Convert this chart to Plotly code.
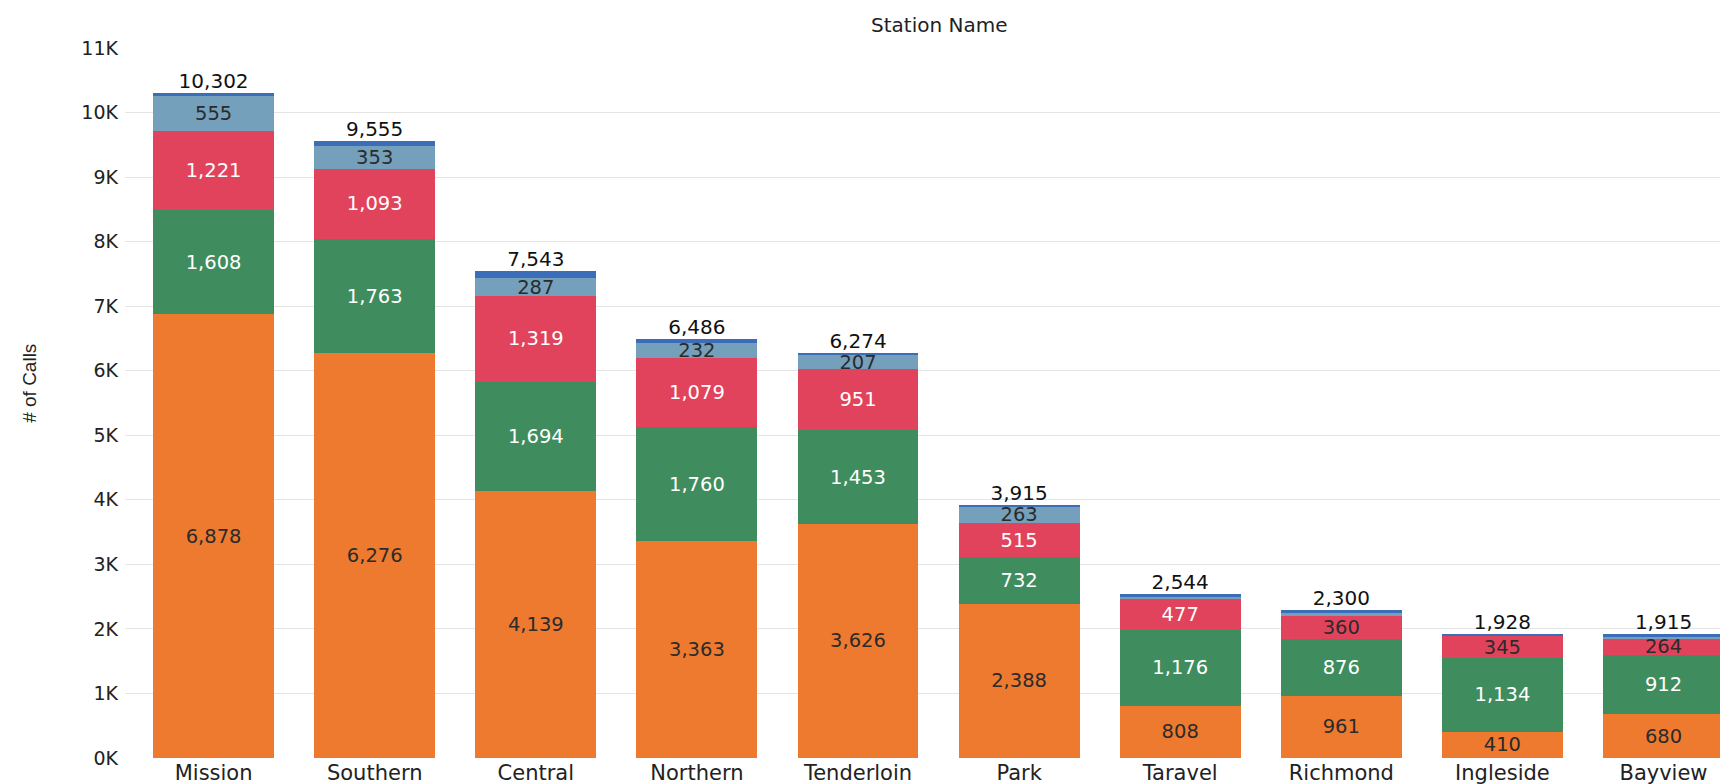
import plotly.graph_objects as go

stations = ["Mission", "Southern", "Central", "Northern", "Tenderloin",
            "Park", "Taravel", "Richmond", "Ingleside", "Bayview"]
orange_vals = [6878, 6276, 4139, 3363, 3626, 2388, 808, 961, 410, 680]
green_vals = [1608, 1763, 1694, 1760, 1453, 732, 1176, 876, 1134, 912]
red_vals = [1221, 1093, 1319, 1079, 951, 515, 477, 360, 345, 264]
lightblue_vals = [555, 353, 287, 232, 207, 263, 40, 55, 0, 20]
darkblue_vals = [40, 70, 104, 52, 37, 17, 43, 48, 39, 39]
totals = [10302, 9555, 7543, 6486, 6274, 3915, 2544, 2300, 1928, 1915]
show_lightblue_label = [True, True, True, True, True, True, False, False, False, False]
red_dark_text = [False, False, False, False, False, False, False, True, True, True]
ytick_vals = [0, 1000, 2000, 3000, 4000, 5000, 6000, 7000, 8000, 9000, 10000, 11000]
ytick_text = ["0K", "1K", "2K", "3K", "4K", "5K", "6K", "7K", "8K", "9K", "10K", "11K"]

FONT = "DejaVu Sans, Liberation Sans, Arial, sans-serif"
DARK = "#2b2b2b"
LABEL_SIZE = 19.5

def fmt(v):
    return f"{v:,}"

fig = go.Figure()

common = dict(textposition="inside", insidetextanchor="middle", constraintext="none")

fig.add_trace(go.Bar(
    x=stations, y=orange_vals, marker=dict(color="#EE7A2F", line=dict(width=0)),
    text=[fmt(v) for v in orange_vals],
    textfont=dict(color=DARK, size=LABEL_SIZE, family=FONT), name="orange", **common))
fig.add_trace(go.Bar(
    x=stations, y=green_vals, marker=dict(color="#3F8D5E", line=dict(width=0)),
    text=[fmt(v) for v in green_vals],
    textfont=dict(color="white", size=LABEL_SIZE, family=FONT), name="green", **common))
fig.add_trace(go.Bar(
    x=stations, y=red_vals, marker=dict(color="#E2435C", line=dict(width=0)),
    text=[fmt(v) for v in red_vals],
    textfont=dict(color=[DARK if d else "white" for d in red_dark_text], size=LABEL_SIZE, family=FONT),
    name="red", **common))
fig.add_trace(go.Bar(
    x=stations, y=lightblue_vals, marker=dict(color="#74A0BC", line=dict(width=0)),
    text=[fmt(v) if s else "" for v, s in zip(lightblue_vals, show_lightblue_label)],
    textfont=dict(color=DARK, size=LABEL_SIZE, family=FONT), name="lightblue", **common))
fig.add_trace(go.Bar(
    x=stations, y=darkblue_vals, marker=dict(color="#3C6DB8", line=dict(width=0)),
    textposition="none", name="darkblue"))
fig.add_trace(go.Scatter(
    x=stations, y=totals, mode="text", text=[fmt(v) for v in totals],
    textposition="top center", textfont=dict(color="#111", size=20, family=FONT),
    cliponaxis=False, showlegend=False))

fig.update_layout(
    barmode="stack", bargap=0.25, showlegend=False,
    width=1728, height=784,
    margin=dict(l=117, r=0, t=40, b=34),
    paper_bgcolor="white", plot_bgcolor="white",
    font=dict(family=FONT, color="#222"),
    annotations=[
        dict(text="Station Name", xref="paper", yref="paper", x=0.505, y=1.0,
             yshift=23, showarrow=False, xanchor="center", yanchor="middle",
             font=dict(size=20, family=FONT, color="#222")),
        dict(text="# of Calls", xref="paper", yref="paper", x=0, xshift=-95, y=0.527,
             textangle=-90, showarrow=False, xanchor="center", yanchor="middle",
             font=dict(size=19, family="Liberation Sans Narrow, Liberation Sans, Arial", color="#222")),
    ],
)
fig.update_xaxes(range=[-0.55, 9.45], showgrid=False, showline=False, ticks="",
                 tickfont=dict(size=21, family=FONT, color="#222"))
fig.update_yaxes(range=[0, 11000], tickvals=ytick_vals, ticktext=ytick_text,
                 showgrid=True, gridcolor="#e4e4e4", gridwidth=1, zeroline=False,
                 showline=False, ticks="", ticklabelstandoff=6,
                 tickfont=dict(size=19, family=FONT, color="#222"))

fig.write_html("out.html")
